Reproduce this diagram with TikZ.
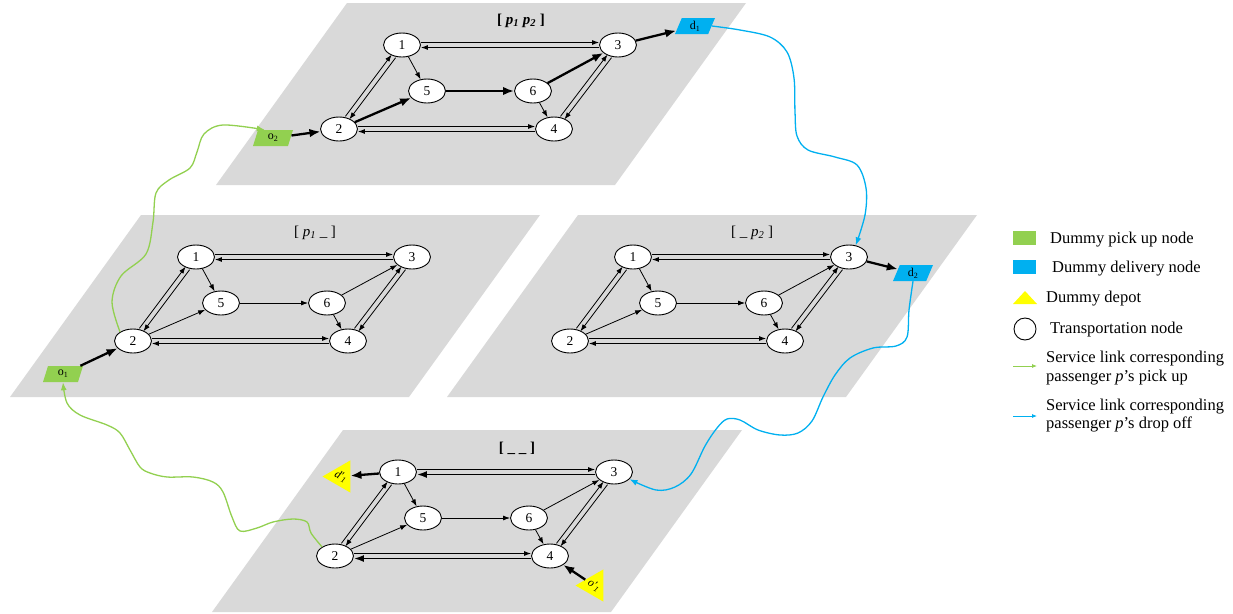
\documentclass[tikz,border=0pt]{standalone}
\usepackage{fontspec}
\setmainfont{Liberation Serif}
\usetikzlibrary{arrows.meta,shapes.geometric}
\definecolor{planegray}{RGB}{217,217,217}
\definecolor{pgreen}{RGB}{146,208,80}
\definecolor{pblue}{RGB}{0,176,240}
\definecolor{pyellow}{RGB}{255,255,0}
\tikzset{
 tnode/.style={ellipse, draw=black, fill=white, line width=0.9pt, minimum width=37pt, minimum height=24pt, inner sep=0pt, font=\fontsize{13.5}{14}\selectfont},
 arr/.style={-{Latex[length=7pt,width=5pt]}, line width=0.8pt},
 marr/.style={-{Latex[length=10pt,width=7pt]}, line width=1.6pt},
 tarr/.style={-{Latex[length=11pt,width=8.5pt]}, line width=2.3pt},
 lnUp/.style={transform canvas={shift={(0,-2.5)}}},
 lnDn/.style={transform canvas={shift={(0,2.5)}}},
 lnL/.style={transform canvas={shift={(-2,-1.5)}}},
 lnR/.style={transform canvas={shift={(2,1.5)}}},
 e13/.style={}, e31/.style={}, e24/.style={}, e42/.style={},
 e21/.style={}, e12/.style={}, e43/.style={}, e34/.style={},
 e15/.style={}, e25/.style={}, e56/.style={}, e63/.style={}, e64/.style={},
 lbl/.style={font=\fontsize{15}{16}\selectfont, inner sep=0pt},
 dummy/.style={trapezium, trapezium left angle=56, trapezium right angle=124, trapezium stretches body, minimum width=40pt, minimum height=16pt, inner sep=0pt, font=\fontsize{12}{13}\selectfont},
 depot/.style={regular polygon, regular polygon sides=3, minimum size=37pt, inner sep=0pt, fill=pyellow, font=\fontsize{11.5}{12}\selectfont},
 pick/.style={draw=pgreen, line width=1.3pt, -{Latex[length=8pt,width=6pt]}},
 drop/.style={draw=pblue, line width=1.3pt, -{Latex[length=8pt,width=6pt]}},
 legtxt/.style={anchor=base west, font=\fontsize{16.5}{18}\selectfont, inner sep=0pt},
}
\newcommand\drawlayer[4]{%
\begin{scope}[shift={(#2,#3)}]
\fill[planegray] (-55,-42) -- (344,-42) -- (213,140) -- (-186,140) -- cycle;
\node[lbl] (#1lab) at (119,-24) {#4};
\node[tnode] (#11) at (0,0) {1};
\node[tnode] (#13) at (216,0) {3};
\node[tnode] (#15) at (25,46) {5};
\node[tnode] (#16) at (131,46) {6};
\node[tnode] (#12) at (-63,84) {2};
\node[tnode] (#14) at (152,84) {4};
\draw[arr,lnUp,e13] (#11) -- (#13);
\draw[arr,lnDn,e31] (#13) -- (#11);
\draw[arr,lnUp,e24] (#12) -- (#14);
\draw[arr,lnDn,e42] (#14) -- (#12);
\draw[arr,lnL,e21] (#12) -- (#11);
\draw[arr,lnR,e12] (#11) -- (#12);
\draw[arr,lnL,e43] (#14) -- (#13);
\draw[arr,lnR,e34] (#13) -- (#14);
\draw[arr,e15] (#11) -- (#15);
\draw[arr,e25] (#12) -- (#15);
\draw[arr,e56] (#15) -- (#16);
\draw[arr,e63] (#16) -- (#13);
\draw[arr,e64] (#16) -- (#14);
\end{scope}}
\begin{document}
\begin{tikzpicture}[x=1pt,y=-1pt]
\useasboundingbox (0,0) rectangle (1233,613);
% top layer
\begin{scope}[e25/.style={tarr}, e56/.style={tarr}, e63/.style={tarr}]
\drawlayer{t}{402}{45}{\bfseries [ \textit{p\textsubscript{1}} \textit{p\textsubscript{2}} ]}
\end{scope}
% left layer
\drawlayer{l}{196}{257}{[ \textit{p\textsubscript{1}} \_ ]}
% right layer
\drawlayer{r}{633}{257}{[ \_ \textit{p\textsubscript{2}} ]}
% bottom layer
\begin{scope}[e31/.style={marr}, e42/.style={marr}]
\drawlayer{b}{398}{472}{\bfseries [ \_ \_ ]}
\end{scope}
% dummy nodes
\node[dummy, fill=pgreen] (o2) at (273,138) {o\textsubscript{2}};
\node[dummy, fill=pblue] (d1) at (695,26) {d\textsubscript{1}};
\node[dummy, fill=pgreen] (o1) at (63,374) {o\textsubscript{1}};
\node[dummy, fill=pblue] (d2) at (913,273) {d\textsubscript{2}};
\node[depot, rotate=-28, shape border rotate=118] (dp1) at (341,476.5) {\textit{d′\textsubscript{1}}};
\node[depot, rotate=-32, shape border rotate=122] (op1) at (594,585.5) {\textit{o′\textsubscript{1}}};
\draw[tarr] (o2) -- (t2);
\draw[tarr] (t3) -- (d1);
\draw[tarr] (o1) -- (l2);
\draw[tarr] (r3) -- (d2);
\draw[tarr] (b1) -- (dp1);
\draw[tarr] (op1) -- (b4);
% service links
\draw[pick] plot[smooth, tension=0.55] coordinates {(l2.145) (112,302) (121,276) (146,254) (153,222) (156,193) (169,180) (190,168) (197,152) (204,134) (223,125) (o2.north west)};
\draw[pick] plot[smooth, tension=0.55] coordinates {(b2.145) (311,533) (307,522) (293,519) (273,522) (257,528) (240,531) (232,517) (223,492) (213,482) (193,477) (167,477) (150,473) (140,467) (130,450) (120,433) (107,425) (80,415) (67,403) (o1.south)};
\draw[drop] plot[smooth, tension=0.55] coordinates {(d1.east) (740,30) (770,37) (787,52) (794,78) (795,112) (797,136) (808,150) (835,157) (857,165) (866,188) (865,215) (r3.60)};
\draw[drop] plot[smooth, tension=0.55] coordinates {(d2.south) (909,310) (907,337) (896,346) (873,348) (850,358) (835,375) (823,397) (812,421) (798,433) (780,435) (758,430) (740,420) (727,419) (717,428) (705,446) (691,474) (675,487) (656,490) (b3.-25)};
% legend
\node[fill=pgreen, minimum width=23pt, minimum height=14pt, inner sep=0pt] (lg1) at (1024.5,238) {};
\node[legtxt] (lt1) at (1050,243) {Dummy pick up node};
\node[fill=pblue, minimum width=23pt, minimum height=14pt, inner sep=0pt] (lg2) at (1024.5,267) {};
\node[legtxt] (lt2) at (1052,272) {Dummy delivery node};
\fill[pyellow] (1013,304) -- (1025,291) -- (1037,304) -- cycle;
\node[legtxt] (lt3) at (1046,302) {Dummy depot};
\node[circle, draw=black, line width=0.9pt, minimum size=22pt, inner sep=0pt] (lg4) at (1025,329) {};
\node[legtxt] (lt4) at (1050,333) {Transportation node};
\coordinate (ga) at (1013,366); \coordinate (gb) at (1037,366);
\draw[draw=pgreen, line width=0.8pt, -{Latex[length=5pt,width=4pt]}] (ga) -- (gb);
\node[legtxt] (lt5) at (1046,362) {Service link corresponding};
\node[legtxt] (lt6) at (1046,381) {passenger \textit{p}’s pick up};
\coordinate (ba) at (1013,416); \coordinate (bb) at (1037,416);
\draw[draw=pblue, line width=0.8pt, -{Latex[length=5pt,width=4pt]}] (ba) -- (bb);
\node[legtxt] (lt7) at (1046,410) {Service link corresponding};
\node[legtxt] (lt8) at (1046,428) {passenger \textit{p}’s drop off};
\end{tikzpicture}
\end{document}
